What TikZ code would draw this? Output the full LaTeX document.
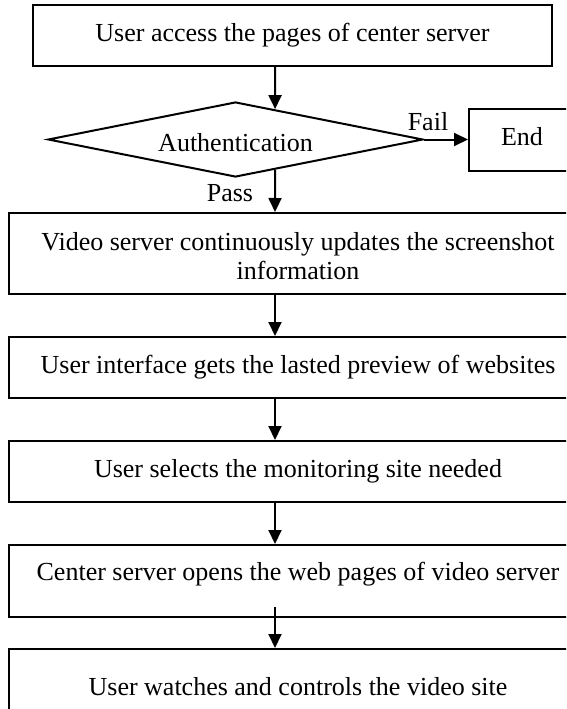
\documentclass[tikz,border=0pt]{standalone}
\usepackage{fontspec}
\setmainfont{Liberation Serif}
\usetikzlibrary{shapes.geometric,arrows.meta,calc}
\lineskiplimit=-30pt\relax
\begin{document}
\begin{tikzpicture}[x=1pt,y=-1pt,
  every node/.style={font=\fontsize{26}{29}\selectfont},
  box/.style={draw, line width=2pt, rectangle, inner sep=0pt, align=center},
  dec/.style={draw, line width=2pt, diamond, shape aspect=5, inner sep=0pt, minimum width=375pt, minimum height=75pt},
  arr/.style={line width=2pt, -{Triangle[length=14pt,width=13pt]}},
  lbl/.style={inner sep=0pt}]
\useasboundingbox (0,0) rectangle (566,709);
\clip (0,0) rectangle (566,709);
\coordinate (ax) at (275,0);
\node[box, minimum width=519pt, minimum height=61pt] (top) at (292.5,35.5) {User access the pages of center server\strut};
\node[dec, text height=23pt, text depth=0pt] (auth) at (235.5,139.5) {Authentication};
\node[box, minimum width=106pt, minimum height=62pt] (end) at (522,139.5) {End\strut};
\node[box, minimum width=578pt, minimum height=81pt] (b2) at (298,253.5) {\rule{0pt}{24pt}Video server continuously updates the screenshot\\information};
\node[box, minimum width=578pt, minimum height=61pt] (b3) at (298,367.5) {User interface gets the lasted preview of websites\strut};
\node[box, minimum width=578pt, minimum height=61pt] (b4) at (298,471.5) {User selects the monitoring site needed\strut};
\node[box, minimum width=578pt, minimum height=72pt, text height=18pt, text depth=19pt] (b5) at (298,581) {Center server opens the web pages of video server};
\node[box, minimum width=578pt, minimum height=74pt, text height=19pt, text depth=0pt] (b6) at (298,686) {User watches and controls the video site};
\node[lbl] (fail) at (428,122) {Fail};
\node[lbl] (pass) at (230,193) {Pass};
\coordinate (s5) at (275,607);
\draw[arr] (top.south -| ax) -- ($(auth.north)!0.21!(auth.east)$);
\draw[arr] (auth.east) -- (end.west);
\draw[arr] ($(auth.south)!0.21!(auth.east)$) -- (b2.north -| ax);
\draw[arr] (b2.south -| ax) -- (b3.north -| ax);
\draw[arr] (b3.south -| ax) -- (b4.north -| ax);
\draw[arr] (b4.south -| ax) -- (b5.north -| ax);
\draw[arr] (s5) -- (b6.north -| ax);
\end{tikzpicture}
\end{document}
